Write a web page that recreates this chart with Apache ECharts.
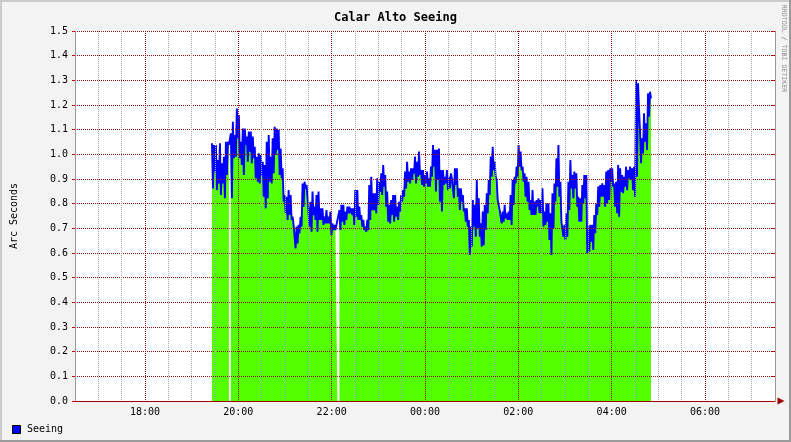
<!DOCTYPE html>
<html><head><meta charset="utf-8">
<script src="https://cdn.jsdelivr.net/npm/echarts@6/dist/echarts.min.js"></script>
<style>html,body{margin:0;padding:0;background:#f3f3f3}#c{width:791px;height:442px}</style>
</head><body><div id="c"></div><script>
const chartTitle = 'Calar Alto Seeing';
const yAxisName = 'Arc Seconds';
const seriesName = 'Seeing';
const watermark = 'RRDTOOL / TOBI OETIKER';
// x axis in hours (24+ = next day)
const xMinHour = 16.5, xMaxHour = 31.5;
const xLabelHours = [18, 20, 22, 24, 26, 28, 30];
const xLabels = ['18:00', '20:00', '22:00', '00:00', '02:00', '04:00', '06:00'];
const yMin = 0, yMax = 1.5, yStep = 0.1;
// samples: first sample time (hours) and spacing (minutes)
const sampleStartHour = 19.435;
const sampleStepMinutes = 1.28;
const seeing = [
1.045,0.862,1.038,0.93,1.038,0.855,0.977,0.882,1.045,0.835,0.964,0.882,0.99,0.822,1.051,0.916,1.051,1.038,null,
1.085,0.822,1.132,0.984,1.078,0.99,1.186,1.065,1.159,0.984,1.051,0.957,1.105,0.916,1.105,1.038,1.072,0.97,1.092,1.011,
1.092,0.964,1.072,0.984,1.031,0.903,0.99,0.889,1.004,0.882,0.997,0.916,0.97,0.828,0.957,0.781,1.051,0.822,1.078,0.889,
0.99,0.882,1.065,0.923,1.112,0.997,1.105,1.018,1.099,0.916,1.024,0.903,0.943,0.808,0.835,0.761,0.828,0.734,0.855,0.754,
0.835,0.734,0.747,0.714,0.707,0.619,0.707,0.639,0.714,0.68,0.747,0.707,0.882,0.788,0.889,0.862,0.876,0.822,0.822,0.707,
0.808,0.686,0.849,0.754,0.788,0.734,
0.835,0.686,0.849,0.734,0.781,0.734,0.781,0.714,0.747,0.72,0.774,0.72,0.747,0.72,0.768,0.673,0.72,0.693,0.714,0.693,0.70,0.693,null,
0.774,0.693,0.795,0.727,0.795,0.714,0.768,0.734,0.788,0.761,0.788,0.761,0.781,0.754,0.781,0.714,0.855,0.747,0.855,0.734,
0.788,0.734,0.754,0.707,0.734,0.693,0.707,0.686,0.734,0.693,0.876,0.734,0.909,0.774,0.842,0.774,0.842,0.761,0.903,0.795,
0.889,0.849,0.923,0.835,0.957,0.869,0.916,0.788,0.849,0.727,0.795,0.72,0.815,0.754,0.835,0.727,0.835,0.747,0.788,0.734,
0.808,0.768,0.835,0.808,0.855,0.828,0.93,0.862,0.97,0.889,0.93,0.882,0.943,0.896,0.943,0.923,0.991,0.882,0.97,0.909,
1.011,0.916,0.936,0.876,0.936,0.869,0.916,0.882,0.93,0.869,0.903,0.869,
0.95,0.909,1.038,0.95,1.018,0.849,1.018,0.896,1.024,0.808,0.936,0.768,0.936,0.876,0.909,0.882,0.936,0.855,0.909,0.862,
0.923,0.903,0.896,0.822,0.943,0.876,0.943,0.828,0.862,0.774,0.862,0.808,0.835,0.768,0.781,0.727,0.781,0.707,0.734,0.592,
0.707,0.626,0.815,0.707,0.795,0.666,0.896,0.70,0.822,0.666,0.72,0.626,0.768,0.632,0.795,0.693,0.842,0.761,0.896,0.835,
0.991,0.909,1.031,0.936,0.97,0.909,0.896,0.815,0.815,0.774,0.781,0.72,0.768,0.727,0.795,0.741,0.761,0.734,0.768,0.734,
0.835,0.714,0.896,0.795,0.909,0.882,0.95,0.909,1.038,0.95,1.011,0.936,0.95,0.889,0.923,0.828,0.909,0.808,0.889,0.774,
0.815,0.754,0.855,0.754,0.808,0.754,0.815,0.788,0.822,0.761,
0.815,0.761,0.862,0.707,0.768,0.714,0.801,0.727,0.801,0.653,0.761,0.592,0.842,0.70,0.882,0.808,0.984,0.869,1.038,0.828,
0.889,0.727,0.727,0.666,0.714,0.653,0.761,0.666,0.889,0.774,0.977,0.862,0.916,0.822,0.93,0.862,0.923,0.788,0.828,0.727,
0.822,0.727,0.876,0.801,0.916,0.822,0.916,0.599,0.707,0.605,0.714,0.646,0.714,0.612,0.754,0.68,0.801,0.754,0.869,0.788,
0.876,0.828,0.882,0.828,0.876,0.788,0.93,0.801,0.936,0.815,0.943,0.889,0.943,0.869,0.882,0.788,0.889,0.761,0.957,0.747,
0.943,0.849,0.916,0.842,0.909,0.869,0.95,0.855,0.936,0.903,0.95,0.896,0.943,0.855,0.95,0.828,1.301,0.909,1.288,1.18,
1.092,0.964,1.065,1.004,1.166,1.051,1.126,1.018,1.247,1.153,1.254,1.227
];

const points = seeing.map((v, i) => [sampleStartHour + i * sampleStepMinutes / 60, v]);
const FONT = 'DejaVu Sans Mono';
const majorRed = '#901010';
const minorGrey = '#a6a6a6';

const chart = echarts.init(document.getElementById('c'), null, {renderer: 'canvas'});
chart.setOption({
  animation: false,
  backgroundColor: '#f3f3f3',
  title: {
    text: chartTitle, left: 'center', top: 7,
    textStyle: {fontFamily: FONT, fontSize: 12, fontWeight: 'bold', color: '#000'}
  },
  grid: {left: 75, top: 31, right: 16, bottom: 41, show: true, backgroundColor: '#ffffff', borderWidth: 0},
  xAxis: {
    type: 'value', min: xMinHour, max: xMaxHour, interval: 0.5, z: 10,
    axisLine: {show: true, symbol: ['none', 'triangle'], symbolSize: [7, 7], symbolOffset: [0, 6],
      lineStyle: {color: '#a00000', width: 1}},
    axisTick: {show: false},
    axisLabel: {
      margin: 6, fontFamily: FONT, fontSize: 10, color: '#000',
      formatter: v => { const k = xLabelHours.findIndex(h => Math.abs(h - v) < 1e-6); return k >= 0 ? xLabels[k] : ''; }
    },
    splitLine: {show: true, showMinLine: true, showMaxLine: true,
      lineStyle: {color: [minorGrey, minorGrey, minorGrey, majorRed], type: [1, 1], width: 1}}
  },
  yAxis: [{
    type: 'value', min: yMin, max: yMax, interval: yStep, z: 10,
    axisLine: {show: true, lineStyle: {color: '#9a9a9a'}},
    axisTick: {show: true, inside: false, length: 3, lineStyle: {color: '#d00000'}},
    axisLabel: {margin: 7, fontFamily: FONT, fontSize: 10, color: '#000', formatter: v => v.toFixed(1)},
    splitLine: {show: true, lineStyle: {color: majorRed, type: [1, 1], width: 1}}
  }, {
    type: 'value', min: yMin, max: yMax, interval: yStep, position: 'right', z: 10,
    axisLine: {show: true, lineStyle: {color: '#9a9a9a'}},
    axisTick: {show: true, inside: true, length: 3, lineStyle: {color: '#d00000'}},
    axisLabel: {show: false}, splitLine: {show: false}
  }],
  series: [{
    name: seriesName + ' area', type: 'line', data: points, showSymbol: false, connectNulls: false,
    lineStyle: {width: 0}, areaStyle: {color: '#54ff00', opacity: 1}, z: 2, silent: true
  }, {
    name: seriesName, type: 'line', data: points, showSymbol: false, connectNulls: true,
    lineStyle: {color: '#0000ff', width: 1.9}, z: 3, silent: true
  }],
  graphic: [
    {type: 'rect', shape: {x: 0, y: 0, width: 791, height: 2}, style: {fill: '#cbcbcb'}},
    {type: 'rect', shape: {x: 0, y: 0, width: 2, height: 442}, style: {fill: '#cbcbcb'}},
    {type: 'rect', shape: {x: 0, y: 440, width: 791, height: 2}, style: {fill: '#9b9b9b'}},
    {type: 'rect', shape: {x: 789, y: 0, width: 2, height: 442}, style: {fill: '#9b9b9b'}},
    {type: 'text', x: 14, y: 216, rotation: Math.PI / 2,
      style: {text: yAxisName, font: '10px "DejaVu Sans Mono"', fill: '#000', align: 'center', verticalAlign: 'middle'}},
    {type: 'text', x: 783.5, y: 48.5, rotation: -Math.PI / 2,
      style: {text: watermark, font: '6.6px "DejaVu Sans Mono"', fill: '#8a8a8a', align: 'center', verticalAlign: 'middle'}},
    {type: 'rect', shape: {x: 12.5, y: 425.5, width: 8, height: 8}, style: {fill: '#0000ff', stroke: '#000', lineWidth: 1}},
    {type: 'text', x: 27, y: 429.5,
      style: {text: seriesName, font: '10px "DejaVu Sans Mono"', fill: '#000', align: 'left', verticalAlign: 'middle'}}
  ]
});
</script></body></html>
